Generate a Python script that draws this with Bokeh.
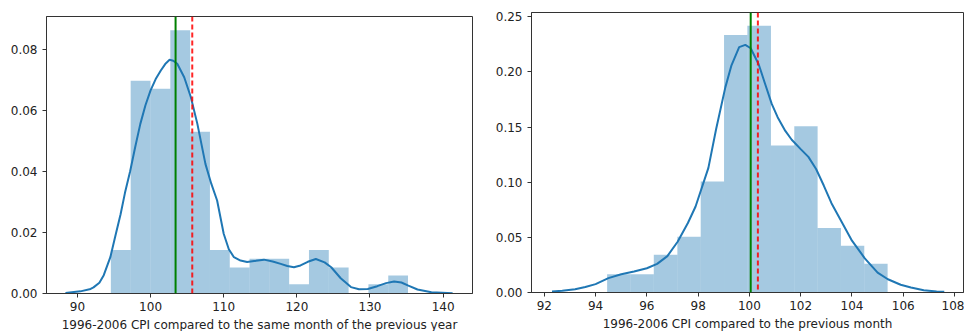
from bokeh.plotting import figure
from bokeh.layouts import row, column
from bokeh.models import Range1d, FixedTicker, Span, NumeralTickFormatter, ColumnDataSource
from bokeh.embed import file_html
from bokeh.resources import INLINE

# ---------------- data: left panel (same month of previous year) ----------------
yoy_edges = [94.57, 97.28, 99.99, 102.70, 105.41, 108.12, 110.83, 113.53, 116.24,
             118.95, 121.66, 124.37, 127.08, 129.79, 132.50, 135.20]
yoy_density = [0.0143, 0.0697, 0.0671, 0.0863, 0.0530, 0.0143, 0.0085, 0.0114,
               0.0114, 0.0030, 0.0143, 0.0085, 0.0, 0.0030, 0.0059]
yoy_kde_x = [88.36, 90.4, 91.8, 92.2, 93.0, 93.6, 94.5, 95.2, 95.9, 96.5, 97.2, 97.9,
             98.6, 99.3, 100.0, 100.7, 101.4, 102.0, 102.6, 103.1, 103.65, 104.6, 105.5,
             106.4, 107.5, 108.3, 109.1, 110.0, 110.7, 111.4, 112.3, 113.2, 114.4,
             115.5, 116.7, 117.8, 118.7, 119.6, 120.5, 121.5, 122.6, 123.8, 124.7,
             126.0, 127.4, 128.5, 129.7, 131.0, 132.2, 133.3, 134.3, 135.25, 136.5,
             138.4, 141.3]
yoy_kde_y = [0.0002, 0.0007, 0.0015, 0.002, 0.0035, 0.006, 0.0119, 0.019, 0.026, 0.033,
             0.040, 0.048, 0.0556, 0.0617, 0.0666, 0.0703, 0.0731, 0.0752, 0.0766,
             0.0763, 0.0753, 0.0709, 0.0644, 0.0556, 0.0425, 0.036, 0.0305, 0.0196,
             0.0145, 0.0119, 0.0108, 0.0103, 0.0107, 0.0111, 0.0105, 0.0097, 0.009,
             0.0086, 0.0092, 0.0104, 0.0113, 0.0102, 0.0086, 0.005, 0.0021, 0.0014,
             0.0015, 0.0024, 0.0034, 0.0039, 0.0036, 0.0026, 0.0013, 0.0004, 0.0001]
yoy_median = 103.42
yoy_mean = 105.70
yoy_xticks = [90, 100, 110, 120, 130, 140]
yoy_yticks = [0.00, 0.02, 0.04, 0.06, 0.08]
yoy_xlabel = "1996-2006 CPI compared to the same month of the previous year"

# ---------------- data: right panel (previous month) ----------------
mom_edges = [94.45, 95.36, 96.27, 97.19, 98.10, 99.01, 99.92, 100.84, 101.75,
             102.66, 103.57, 104.48, 105.39]
mom_density = [0.0166, 0.0166, 0.0342, 0.0505, 0.1007, 0.2334, 0.2418, 0.1333,
               0.1508, 0.0586, 0.0423, 0.0260]
mom_kde_x = [92.3, 92.7, 93.2, 93.6, 94.0, 94.5, 95.0, 95.5, 96.0, 96.4, 96.8, 97.2,
             97.6, 97.9, 98.4, 98.7, 99.06, 99.3, 99.6, 99.84, 100.05, 100.36, 100.6,
             100.87, 101.1, 101.4, 101.65, 102.0, 102.3, 102.6, 102.9, 103.2, 103.6,
             104.0, 104.5, 105.0, 105.4, 105.9, 106.3, 106.8, 107.3, 107.6]
mom_kde_y = [0.0008, 0.0015, 0.003, 0.005, 0.0076, 0.013, 0.0165, 0.019, 0.022, 0.026,
             0.033, 0.046, 0.063, 0.078, 0.113, 0.148, 0.186, 0.206, 0.2225, 0.2246,
             0.2215, 0.207, 0.19, 0.171, 0.159, 0.1465, 0.1385, 0.130, 0.123, 0.112,
             0.097, 0.081, 0.064, 0.047, 0.031, 0.018, 0.012, 0.007, 0.0045, 0.002,
             0.0009, 0.0006]
mom_median = 100.05
mom_mean = 100.33
mom_xticks = [92, 94, 96, 98, 100, 102, 104, 106, 108]
mom_yticks = [0.00, 0.05, 0.10, 0.15, 0.20, 0.25]
mom_xlabel = "1996-2006 CPI compared to the previous month"

BAR = "#1f77b4"
FONT = "DejaVu Sans"
SPINE = "#333333"


def make_panel(edges, dens, kx, ky, med, mean, xticks, yticks, xlabel,
               xr, yr, fw, fh, bl, br, bt):
    p = figure(frame_width=fw, frame_height=fh, x_range=Range1d(*xr), y_range=Range1d(*yr),
               output_backend="svg", toolbar_location=None,
               min_border_left=bl, min_border_right=br, min_border_top=bt, min_border_bottom=10)
    src = ColumnDataSource(dict(left=edges[:-1], right=edges[1:], top=dens,
                                bottom=[0] * len(dens)))
    p.quad(left="left", right="right", top="top", bottom="bottom", source=src,
           fill_color=BAR, fill_alpha=0.4, line_color=None)
    p.line(kx, ky, line_color=BAR, line_width=2)
    p.add_layout(Span(location=med, dimension="height", line_color="green", line_width=2))
    p.add_layout(Span(location=mean, dimension="height", line_color="red", line_width=2,
                      line_dash="5 3", line_alpha=0.85))
    p.xgrid.visible = False
    p.ygrid.visible = False
    p.outline_line_color = SPINE
    p.outline_line_width = 1
    p.outline_line_alpha = 1
    p.background_fill_color = "white"
    p.border_fill_color = "white"
    p.xaxis.ticker = FixedTicker(ticks=xticks)
    p.yaxis.ticker = FixedTicker(ticks=yticks)
    p.yaxis.formatter = NumeralTickFormatter(format="0.00")
    p.xaxis.axis_label = xlabel
    for ax in (p.xaxis, p.yaxis):
        ax.axis_line_color = SPINE
        ax.major_tick_line_color = SPINE
        ax.major_tick_in = 0
        ax.major_tick_out = 4
        ax.minor_tick_line_color = None
        ax.major_label_text_font = FONT
        ax.major_label_text_font_size = "12px"
        ax.major_label_text_color = "#222222"
        ax.axis_label_text_font = FONT
        ax.axis_label_text_font_size = "12px"
        ax.axis_label_text_font_style = "normal"
        ax.axis_label_text_color = "#222222"
    p.xaxis.major_label_standoff = 4
    p.xaxis.axis_label_standoff = 4
    p.yaxis.major_label_standoff = 5
    return p


p1 = make_panel(yoy_edges, yoy_density, yoy_kde_x, yoy_kde_y, yoy_median, yoy_mean,
                yoy_xticks, yoy_yticks, yoy_xlabel, (85.77, 144.02), (0, 0.0908),
                426, 277, 46, 10, 16)
p2 = make_panel(mom_edges, mom_density, mom_kde_x, mom_kde_y, mom_median, mom_mean,
                mom_xticks, mom_yticks, mom_xlabel, (91.50, 108.35), (0, 0.2539),
                432, 280, 49, 1, 12)

layout = row(column(p1), column(p2))
open("out.html", "w").write(file_html(layout, INLINE))
